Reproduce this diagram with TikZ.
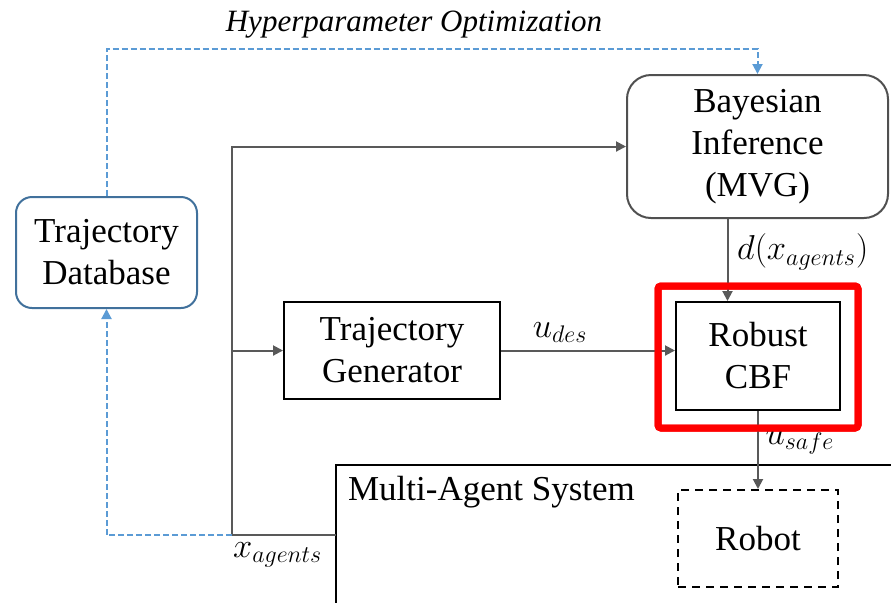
\documentclass[tikz,border=0pt]{standalone}
\usepackage{fontspec}
\setmainfont{Liberation Serif}
\usetikzlibrary{arrows.meta,shadows}
\definecolor{arrgray}{RGB}{89,89,89}
\definecolor{fbblue}{RGB}{91,155,213}
\definecolor{dbblue}{RGB}{65,113,156}
\definecolor{bigray}{RGB}{80,80,80}
\begin{document}
\begin{tikzpicture}[x=0.5pt,y=-0.5pt,
  font=\fontsize{17.5}{21}\selectfont,
  blk/.style={draw=black,line width=1pt,align=center,inner sep=0pt},
  dbbox/.style={draw=dbblue,line width=1pt,rounded corners=8pt,align=center,inner sep=0pt,
    minimum width=90.5pt,minimum height=55.5pt},
  bibox/.style={draw=bigray,line width=1pt,rounded corners=12pt,align=center,inner sep=0pt,
    minimum width=130.5pt,minimum height=71.5pt},
  hl/.style={draw=red,line width=3.5pt,rounded corners=1.5pt,minimum width=100pt,minimum height=71pt},
  hlshade/.style={hl,fill=white,drop shadow={opacity=0.35,shadow xshift=1pt,shadow yshift=-1.2pt}},
  robotbox/.style={draw=black,line width=1pt,dash pattern=on 4pt off 3pt,inner sep=0pt,
    minimum width=80pt,minimum height=48.5pt},
  arr/.style={draw=arrgray,line width=1pt,-{Triangle[length=5pt,width=5pt]}},
  ln/.style={draw=arrgray,line width=1pt},
  fb/.style={draw=fbblue,line width=1pt,dash pattern=on 3pt off 1.5pt,-{Triangle[length=5pt,width=5pt]}}]
\useasboundingbox (0,0) rectangle (891,602);
\clip (0,0) rectangle (891,602);

% highlight shadow first, outline again at the end
\node[hlshade] (hlback) at (758,357) {};

% blocks
\node[dbbox] (db) at (106.5,252.5) {Trajectory\\Database};
\node[bibox] (bi) at (757.5,146.5) {Bayesian\\Inference\\(MVG)};
\node[blk,minimum width=108pt,minimum height=48.5pt] (tg) at (392,350.5) {Trajectory\\Generator};
\node[blk,minimum width=82pt,minimum height=54pt] (cbf) at (758,356) {Robust\\CBF};
\node[robotbox] (robot) at (758,538.5) {Robot};
\node (hpo) at (414,25) {\fontsize{15.5}{18}\selectfont\itshape Hyperparameter Optimization};

% multi-agent system (runs off the page)
\draw[line width=1pt] (336,640) |- (920,465);
\node[anchor=west] (mas) at (341,492) {Multi-Agent System};
\coordinate (masin) at (336,535);
\coordinate (split) at (232,535);

% signals
\draw[ln] (masin) -- (split) node[below,pos=0.56] {$x_{agents}$};
\draw[arr] (split) |- (bi.west);
\draw[arr] (split |- tg.west) -- (tg.west);
\draw[arr] (tg.east) -- (tg.east -| cbf.west) node[above,pos=0.34] {$u_{des}$};
\draw[arr] ([xshift=-15pt]bi.south) -- ([xshift=-15pt]bi.south |- cbf.north)
  node[right,pos=0.4,xshift=1pt] {$d\bigl(x_{agents}\bigr)$};
\draw[arr] (cbf.south) -- (robot.north) node[right,pos=0.4] {$u_{safe}$};

% feedback
\draw[fb] (db.north) -- ++(0,-147) -| (bi.north);
\draw[fb] (split) -| (db.south);

% highlight
\node[hl] (hlbox) at (758,357) {};
\end{tikzpicture}
\end{document}
